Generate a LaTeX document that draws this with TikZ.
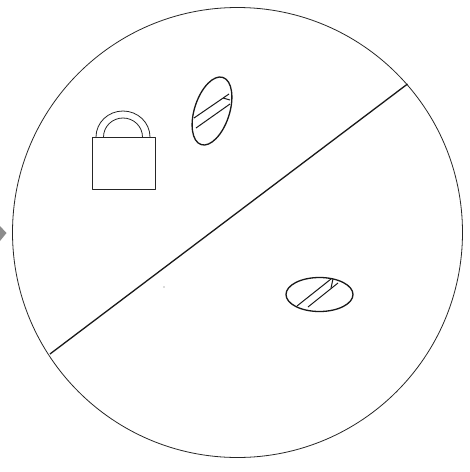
\documentclass[tikz,border=0pt]{standalone}
\begin{document}
\begin{tikzpicture}[x=1pt,y=-1pt,line join=round,
  thin line/.style={draw=black!85,line width=0.8pt},
  band line/.style={draw=black!90,line width=1pt},
  heavy line/.style={draw=black!90,line width=1.3pt}]
\useasboundingbox (0,0) rectangle (470,472);
\fill[white] (0,0) rectangle (470,472);
% grey mark at left
\fill[black!45] (0,226) -- (6.5,233) -- (0,241) -- cycle;
\coordinate (c) at (237.5,232.5);
\draw[thin line] (c) circle (225);
% dividing line
\coordinate (la) at (50,354);
\coordinate (lb) at (407.5,84);
\draw[heavy line] (la) -- (lb);
% padlock
\draw[thin line] (92,137) rectangle (155,189);
\draw[thin line] (96,137) arc[start angle=180,end angle=360,x radius=27,y radius=26];
\draw[thin line] (103.5,137) arc[start angle=180,end angle=360,x radius=19.5,y radius=19];
% upper ellipse
\draw[heavy line] (212,111) ellipse[x radius=17.5,y radius=35.3,rotate=-18];
\draw[band line] (194,118) -- (229,94);
\draw[band line] (196,128) -- (230,104);
\draw[band line] (223,98) -- (230,100);
% lower ellipse
\draw[heavy line] (319.5,294.5) ellipse[x radius=33.5,y radius=17];
\draw[band line] (297,306) -- (331,279);
\draw[band line] (308,307) -- (338,283);
\draw[band line] (333,279) -- (331,288);
% speck
\fill[black!60] (164,287) circle (0.6);
\end{tikzpicture}
\end{document}
